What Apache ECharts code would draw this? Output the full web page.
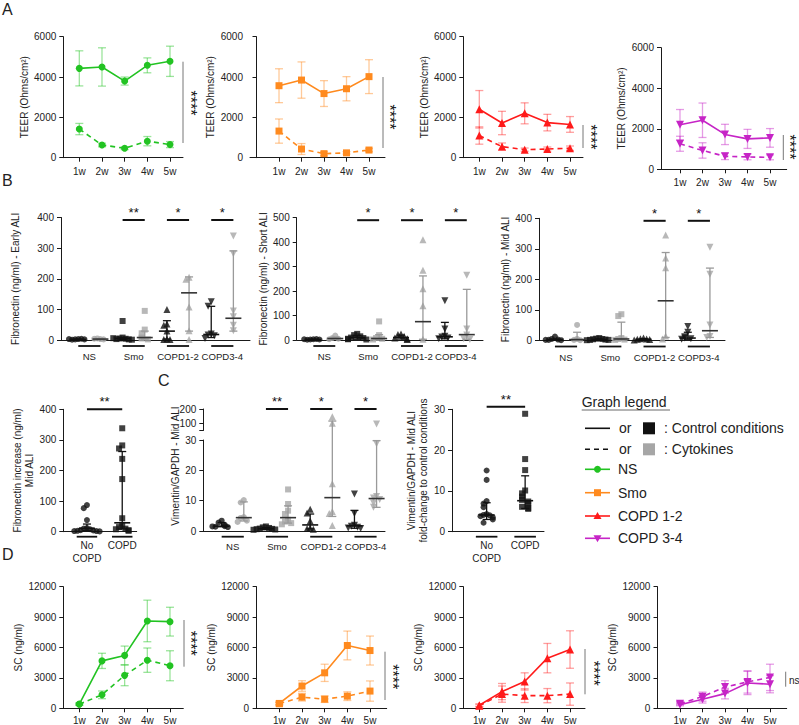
<!DOCTYPE html>
<html><head><meta charset="utf-8">
<script src="https://cdn.jsdelivr.net/npm/echarts@6/dist/echarts.min.js"></script>
<style>html,body{margin:0;padding:0;background:#fff}#c{width:799px;height:725px}</style>
</head><body><div id="c"></div>
<script>
// ---------------- DATA ----------------
const weeks = ['1w', '2w', '3w', '4w', '5w'];

// Panel A – TEER (Ohms/cm²): mean and SD per week
const teerNsCtrl = [4430, 4500, 3800, 4580, 4780];
const teerNsCtrlSd = [870, 950, 200, 370, 750];
const teerNsCyto = [1420, 630, 470, 820, 650];
const teerNsCytoSd = [280, 90, 70, 230, 150];
const teerSmoCtrl = [3570, 3850, 3180, 3420, 4020];
const teerSmoCtrlSd = [840, 900, 640, 600, 840];
const teerSmoCyto = [1320, 430, 200, 240, 380];
const teerSmoCytoSd = [600, 270, 100, 60, 80];
const teerC12Ctrl = [2400, 1720, 2200, 1740, 1650];
const teerC12CtrlSd = [930, 580, 520, 410, 390];
const teerC12Cyto = [1100, 550, 400, 430, 470];
const teerC12CytoSd = [430, 180, 80, 100, 110];
const teerC34Ctrl = [2200, 2420, 1720, 1500, 1550];
const teerC34CtrlSd = [750, 850, 500, 470, 460];
const teerC34Cyto = [1260, 930, 640, 610, 590];
const teerC34CytoSd = [370, 380, 160, 140, 120];

// Panel D – SC (ng/ml): mean and SD per week
const scNsCtrl = [420, 4680, 5220, 8620, 8550];
const scNsCtrlSd = [100, 750, 920, 2050, 1420];
const scNsCyto = [400, 1330, 3250, 4750, 4200];
const scNsCytoSd = [100, 380, 1020, 1200, 1480];
const scSmoCtrl = [480, 2200, 3500, 6200, 5700];
const scSmoCtrlSd = [120, 520, 850, 1420, 1430];
const scSmoCyto = [450, 1100, 900, 1200, 1700];
const scSmoCytoSd = [120, 380, 320, 430, 1000];
const scC12Ctrl = [300, 1650, 2650, 4950, 5800];
const scC12CtrlSd = [150, 800, 850, 1450, 1850];
const scC12Cyto = [250, 1400, 1250, 1250, 1400];
const scC12CytoSd = [100, 800, 680, 700, 1100];
const scC34Ctrl = [350, 900, 1450, 2500, 2380];
const scC34CtrlSd = [100, 380, 520, 1150, 850];
const scC34Cyto = [450, 1150, 2100, 2600, 3050];
const scC34CytoSd = [100, 450, 620, 1100, 1300];

// Panel B/C grouped columns: NS ctrl, NS cyto, Smo ctrl, Smo cyto, COPD1-2 ctrl, COPD1-2 cyto, COPD3-4 ctrl, COPD3-4 cyto
const groupLabels = ['NS', 'Smo', 'COPD1-2', 'COPD3-4'];
// Fibronectin (ng/ml) – Early ALI
const fnEarlyPoints = [[3, 2, 4, 1, 2, 3], [3, 5, 2, 4], [62, 8, 5, 4, 3, 2, 6, 1], [95, 34, 22, 8, 5, 2],
  [100, 52, 48, 29, 3, 2, 2], [205, 198, 108, 30, 2], [125, 110, 20, 16, 14, 5], [340, 282, 95, 76, 48, 30]];
const fnEarlyMedian = [2, 3, 5, 8, 29, 154, 18, 71];
const fnEarlyQ1 = [1, 2, 2, 3, 3, 29, 8, 29];
const fnEarlyQ3 = [3, 4, 7, 29, 63, 206, 110, 291];
const fnEarlySig = ['**', '*', '*'];
// Fibronectin (ng/ml) – Short ALI
const fnShortPoints = [[3, 2, 4, 1, 2, 3], [18, 8, 5, 3], [25, 20, 15, 10, 8, 5, 3, 2], [76, 20, 8, 5, 2],
  [25, 22, 15, 8, 5, 2], [410, 285, 210, 140, 3], [160, 45, 15, 12, 8, 5], [265, 45, 20, 5, 2]];
const fnShortMedian = [2, 6, 9, 6, 10, 75, 13, 22];
const fnShortQ1 = [1, 4, 3, 3, 4, 3, 5, 3];
const fnShortQ3 = [3, 12, 18, 22, 20, 262, 72, 207];
const fnShortSig = ['*', '*', '*'];
// Fibronectin (ng/ml) – Mid ALI
const fnMidPoints = [[13, 5, 3, 2, 1, 2], [51, 5, 2, 1], [8, 6, 5, 4, 3, 2, 2, 1], [86, 80, 8, 5, 3, 2],
  [8, 6, 5, 4, 3, 2], [345, 270, 238, 15, 5], [46, 27, 12, 8, 6, 4], [305, 217, 51, 13, 10]];
const fnMidMedian = [3, 3, 3, 5, 4, 130, 8, 32];
const fnMidQ1 = [2, 1, 2, 2, 2, 10, 4, 10];
const fnMidQ3 = [5, 27, 5, 60, 6, 288, 27, 237];
const fnMidSig = ['*', '*'];
// Fibronectin increase (ng/ml) – Mid ALI: No COPD vs COPD
const fnIncLabels = ['No\nCOPD', 'COPD'];
const fnIncPoints = [[87, 77, 38, 12, 10, 8, 5, 4, 3, 2, 2, 1], [338, 282, 272, 238, 172, 44, 20, 15, 10, 8, 5, 3]];
const fnIncMedian = [11, 29];
const fnIncQ1 = [3, 9];
const fnIncQ3 = [25, 262];
// Vimentin/GAPDH – Mid ALI
const vimPoints = [[3.4, 2.8, 2.0, 1.6, 1.4, 1.3, 1.5], [10.2, 9.4, 4.6, 4.3, 3.4, 3.0], [1.5, 1.2, 1.0, 0.8, 0.7, 0.6, 0.5, 0.4],
  [13.7, 8.9, 6.7, 5.6, 3.7, 3.1, 2.6, 2.2], [7.2, 5.9, 3.3, 1.0, 0.8, 0.6], [146, 100, 15.6, 6.4, 5.8, 1.8],
  [12.2, 5.8, 1.9, 1.6, 1.2, 1.0, 0.8], [95, 28.8, 11.4, 10.9, 10.4, 9.2, 7.8]];
const vimMedian = [1.6, 4.4, 0.75, 4.4, 2.0, 11, 1.7, 10.7];
const vimQ1 = [1.4, 3.3, 0.5, 2.6, 0.7, 4.8, 0.9, 7.8];
const vimQ3 = [2.8, 9.6, 1.1, 8.3, 5.6, 116, 6.8, 29.8];
const vimSig = ['**', '*', '*'];
// Vimentin/GAPDH fold-change – No COPD vs COPD
const vimFoldPoints = [[15, 12.7, 7.5, 6.9, 6.0, 4.3, 4.1, 4.0, 3.8, 3.5, 3.0, 2.2],
  [28.9, 17.8, 15.1, 10.1, 9.4, 8.6, 7.8, 7.4, 7.0, 6.1, 5.8, 5.6]];
const vimFoldMedian = [4.1, 7.6];
const vimFoldQ1 = [3.0, 5.7];
const vimFoldQ3 = [7.1, 13.7];

// ---------------- STYLE ----------------
const FONT = '"Liberation Sans", Arial, Helvetica, sans-serif';
const AX = '#1a1a1a', TXT = '#222';
const GRAYP = '#a6a6a6', GRAYW = '#9a9a9a';
const COL = {ns: '#22c322', smo: '#ff8a1e', c12: '#ff1a1a', c34: '#c624c6'};
const ERR = {ns: 'rgba(34,195,34,0.45)', smo: 'rgba(255,138,30,0.45)', c12: 'rgba(255,26,26,0.42)', c34: 'rgba(198,36,198,0.45)'};

const grids = [], xAxis = [], yAxis = [], series = [], graphic = [];

function addGrid(b, xa, ya) {
  const i = grids.length;
  grids.push({left: b.left, top: b.top, width: b.right - b.left, height: b.bottom - b.top, containLabel: false, outerBoundsMode: 'none'});
  xAxis.push(Object.assign({gridIndex: i}, xa));
  yAxis.push(Object.assign({gridIndex: i}, ya));
  return i;
}
function ln(x1, y1, x2, y2, c, w, dash) {
  return {type: 'line', shape: {x1, y1, x2, y2}, style: {stroke: c, lineWidth: w, lineDash: dash || null}};
}
function txtStyle(text, x, y, size, align, va, color) {
  return {text, x, y, fill: color || TXT, font: size + 'px ' + FONT, textAlign: align, textVerticalAlign: va, align: align, verticalAlign: va, lineHeight: 13};
}
function yAxisBase(min, max, interval, name, gap) {
  return {type: 'value', min, max, interval, splitLine: {show: false},
    axisLine: {show: true, lineStyle: {color: AX, width: 1}},
    axisTick: {show: true, length: 4, lineStyle: {color: AX}},
    axisLabel: {fontSize: 10, color: TXT, margin: 7, fontFamily: FONT, formatter: v => String(v)},
    name: name || '', nameLocation: 'middle', nameRotate: 90, nameGap: gap || 30,
    nameTextStyle: {fontSize: 10, color: TXT, fontFamily: FONT, lineHeight: 12}};
}

// ---- line charts (A, D) ----
function errRender(color) {
  return function (params, api) {
    const x = api.value(0), lo = api.value(1), hi = api.value(2);
    const a = api.coord([x, hi]), b = api.coord([x, Math.max(lo, 0)]);
    return {type: 'group', children: [ln(a[0], a[1], b[0], b[1], color, 1.3),
      ln(a[0] - 4, a[1], a[0] + 4, a[1], color, 1.3), ln(b[0] - 4, b[1], b[0] + 4, b[1], color, 1.3)]};
  };
}
function lineChart(c) {
  const gi = addGrid(c.box,
    {type: 'value', min: c.xmin, max: c.xmax, splitLine: {show: false},
      axisLine: {show: true, lineStyle: {color: AX, width: 1}},
      axisTick: {show: true, length: 4, customValues: [1, 2, 3, 4, 5], lineStyle: {color: AX}},
      axisLabel: {customValues: [1, 2, 3, 4, 5], formatter: v => weeks[Math.round(v) - 1], fontSize: 10, color: TXT, margin: c.xMargin, fontFamily: FONT}},
    yAxisBase(0, c.ymax, c.yint, c.yName, c.nameGap));
  [[c.ctrl, c.ctrlSd, false], [c.cyto, c.cytoSd, true]].forEach(([m, sd, dashed]) => {
    series.push({type: 'custom', xAxisIndex: gi, yAxisIndex: gi, silent: true, z: 2, clip: false,
      renderItem: errRender(c.err), data: m.map((v, i) => [i + 1, v - sd[i], v + sd[i]])});
    series.push({type: 'line', xAxisIndex: gi, yAxisIndex: gi, silent: true, z: 3,
      data: m.map((v, i) => [i + 1, v]), symbol: c.symbol, symbolRotate: c.rot || 0, symbolSize: c.symSize,
      lineStyle: {color: c.color, width: 1.6, type: dashed ? [5, 4] : 'solid'}, itemStyle: {color: c.color}});
  });
}

const sym = {ns: ['circle', 0, 7], smo: ['rect', 0, 7], c12: ['triangle', 0, 8], c34: ['triangle', 180, 8]};
const teerName = 'TEER (Ohms/cm²)', scName = 'SC (ng/ml)';
const lineDefs = [
  {k: 'ns', box: {left: 63.3, top: 36.7, right: 183, bottom: 157.7}, xmin: 0.294, xmax: 5.573, ymax: 6000, yint: 2000, yName: teerName, nameGap: 31, xMargin: 9, ctrl: teerNsCtrl, ctrlSd: teerNsCtrlSd, cyto: teerNsCyto, cytoSd: teerNsCytoSd},
  {k: 'smo', box: {left: 250, top: 36.7, right: 385, bottom: 157.7}, xmin: -0.289, xmax: 5.711, ymax: 6000, yint: 2000, yName: teerName, nameGap: 31, xMargin: 9, ctrl: teerSmoCtrl, ctrlSd: teerSmoCtrlSd, cyto: teerSmoCyto, cytoSd: teerSmoCytoSd},
  {k: 'c12', box: {left: 463.3, top: 36.7, right: 583, bottom: 157.7}, xmin: 0.294, xmax: 5.573, ymax: 6000, yint: 2000, yName: teerName, nameGap: 31, xMargin: 9, ctrl: teerC12Ctrl, ctrlSd: teerC12CtrlSd, cyto: teerC12Cyto, cytoSd: teerC12CytoSd},
  {k: 'c34', box: {left: 661, top: 47.7, right: 786.7, bottom: 169.3}, xmin: 0.156, xmax: 5.742, ymax: 6000, yint: 2000, yName: teerName, nameGap: 31, xMargin: 8, ctrl: teerC34Ctrl, ctrlSd: teerC34CtrlSd, cyto: teerC34Cyto, cytoSd: teerC34CytoSd},
  {k: 'ns', box: {left: 63.3, top: 586.7, right: 183.3, bottom: 708.3}, xmin: 0.294, xmax: 5.587, ymax: 12000, yint: 3000, yName: scName, nameGap: 38, xMargin: 7, ctrl: scNsCtrl, ctrlSd: scNsCtrlSd, cyto: scNsCyto, cytoSd: scNsCytoSd},
  {k: 'smo', box: {left: 256, top: 586.7, right: 386.7, bottom: 708.3}, xmin: -0.028, xmax: 5.736, ymax: 12000, yint: 3000, yName: scName, nameGap: 38, xMargin: 7, ctrl: scSmoCtrl, ctrlSd: scSmoCtrlSd, cyto: scSmoCyto, cytoSd: scSmoCytoSd},
  {k: 'c12', box: {left: 463.3, top: 586.7, right: 585, bottom: 708.3}, xmin: 0.294, xmax: 5.66, ymax: 12000, yint: 3000, yName: scName, nameGap: 38, xMargin: 7, ctrl: scC12Ctrl, ctrlSd: scC12CtrlSd, cyto: scC12Cyto, cytoSd: scC12CytoSd},
  {k: 'c34', box: {left: 657.3, top: 586.7, right: 786.7, bottom: 708.3}, xmin: -0.009, xmax: 5.742, ymax: 12000, yint: 3000, yName: scName, nameGap: 38, xMargin: 7, ctrl: scC34Ctrl, ctrlSd: scC34CtrlSd, cyto: scC34Cyto, cytoSd: scC34CytoSd}
];
lineDefs.forEach(d => lineChart(Object.assign({color: COL[d.k], err: ERR[d.k], symbol: sym[d.k][0], rot: sym[d.k][1], symSize: sym[d.k][2]}, d)));

// ---- scatter column charts (B, C) ----
function swarm(vals, thresh, step) {
  const placed = [];
  const slots = [0, -1, 1, -2, 2, -3, 3, -4, 4, -5, 5];
  return vals.map(v => {
    const k = placed.filter(p => Math.abs(p - v) < thresh).length;
    placed.push(v);
    return (slots[k] || 0) * step;
  });
}
function summaryRender(opt) {
  return function (params, api) {
    const x = api.value(0), med = api.value(1), q1 = api.value(2), q3 = api.value(3), cy = api.value(4);
    const wc = cy ? GRAYW : '#111', mc = cy ? '#333' : '#111';
    let lo = q1, hi = q3, capLo = true, capHi = true, medOn = true;
    if (opt.top != null && hi > opt.top) { hi = opt.top; capHi = false; }
    if (opt.bottom != null) {
      if (hi <= opt.bottom) return {type: 'group', children: []};
      if (lo < opt.bottom) { lo = opt.bottom; capLo = false; }
    }
    if (opt.top != null && med > opt.top) medOn = false;
    if (opt.bottom != null && med < opt.bottom) medOn = false;
    const a = api.coord([x, hi]), b = api.coord([x, lo]);
    const by = (!capLo && opt.extDown) ? b[1] + opt.extDown : b[1];
    const ch = [ln(a[0], a[1], a[0], by, wc, 1.3)];
    if (capHi) ch.push(ln(a[0] - 4, a[1], a[0] + 4, a[1], wc, 1.3));
    if (capLo) ch.push(ln(b[0] - 4, b[1], b[0] + 4, b[1], wc, 1.3));
    if (medOn) { const m = api.coord([x, med]); ch.push(ln(m[0] - 8, m[1], m[0] + 8, m[1], mc, 1.6)); }
    return {type: 'group', children: ch};
  };
}
function underRender(spans, labels, ymin, ulOff, lblOff, fs) {
  return function (params, api) {
    const i = params.dataIndex;
    const a = api.coord([api.value(0), ymin]), b = api.coord([api.value(1), ymin]);
    const y = a[1] + ulOff;
    return {type: 'group', children: [ln(a[0], y, b[0], y, '#111', 1.8),
      {type: 'text', style: txtStyle(labels[i], (a[0] + b[0]) / 2, a[1] + lblOff, fs || 10, 'center', 'top')}]};
  };
}
function sigRender(labels, ymax, dy) {
  return function (params, api) {
    const i = params.dataIndex;
    const a = api.coord([api.value(0), ymax]), b = api.coord([api.value(1), ymax]);
    const y = a[1] + dy;
    return {type: 'group', children: [ln(a[0], y, b[0], y, '#111', 2),
      {type: 'text', style: txtStyle(labels[i], (a[0] + b[0]) / 2, y - 1, 13, 'center', 'bottom', '#111')}]};
  };
}
const bSym = ['circle', 'circle', 'rect', 'rect', 'triangle', 'triangle', 'triangle', 'triangle'];
const bRot = [0, 0, 0, 0, 0, 0, 180, 180];
const bSize = [6, 6, 6, 6, 7, 7, 7, 7];
const bCy = [0, 1, 0, 1, 0, 1, 0, 1];
const bSpans = [[1, 2], [3, 4], [5, 6], [7, 8]];

function xHidden(min, max, showLine) {
  return {type: 'value', min, max, splitLine: {show: false}, axisTick: {show: false}, axisLabel: {show: false},
    axisLine: {show: showLine, lineStyle: {color: AX, width: 1}}};
}
function pointsSeries(gi, pts, syms, rots, sizes, cys, thresh, step, filter) {
  pts.forEach((vals, k) => {
    const offs = swarm(vals, thresh, step);
    const data = [];
    vals.forEach((v, i) => { if (!filter || filter(v)) data.push([k + 1 + offs[i], v]); });
    series.push({type: 'scatter', xAxisIndex: gi, yAxisIndex: gi, silent: true, z: 3, symbol: syms[k], symbolRotate: rots[k],
      symbolSize: sizes[k], itemStyle: {color: cys[k] ? GRAYP : '#111'}, data});
  });
}
function columnChart(c) {
  const gi = addGrid(c.box, xHidden(c.xmin, c.xmax, true), yAxisBase(0, c.ymax, c.yint, c.yName, c.nameGap));
  pointsSeries(gi, c.points, c.sym, c.rot, c.size, c.cy, c.ymax * 5 / 122, c.step);
  series.push({type: 'custom', xAxisIndex: gi, yAxisIndex: gi, silent: true, z: 4, clip: false, renderItem: summaryRender({}),
    data: c.med.map((m, k) => [k + 1, m, c.q1[k], c.q3[k], c.cy[k]])});
  series.push({type: 'custom', xAxisIndex: gi, yAxisIndex: gi, silent: true, z: 4, clip: false,
    renderItem: underRender(c.spans, c.labels, 0, c.ulOff, c.lblOff, c.lblSize), data: c.spans.map(s => [s[0] - c.spanPad, s[1] + c.spanPad])});
  series.push({type: 'custom', xAxisIndex: gi, yAxisIndex: gi, silent: true, z: 4, clip: false,
    renderItem: sigRender(c.sig, c.ymax, c.sigDy), data: c.sigSpans});
}
const bCommon = {sym: bSym, rot: bRot, size: bSize, cy: bCy, spans: bSpans, labels: groupLabels, spanPad: 0, ulOff: 6, lblOff: 10, lblSize: 9.6, step: 0.14, sigDy: 2.5, yint: 100};
columnChart(Object.assign({}, bCommon, {box: {left: 61, top: 217.5, right: 250, bottom: 340}, xmin: 0.22, xmax: 8.75, ymax: 400,
  yName: 'Fibronectin (ng/ml) - Early ALI', nameGap: 40, points: fnEarlyPoints, med: fnEarlyMedian, q1: fnEarlyQ1, q3: fnEarlyQ3,
  sig: fnEarlySig, sigSpans: [[3, 4], [5, 6], [7, 8]]}));
columnChart(Object.assign({}, bCommon, {box: {left: 296.7, top: 217.7, right: 483, bottom: 340}, xmin: 0.24, xmax: 8.74, ymax: 500,
  yName: 'Fibronectin (ng/ml) - Short ALI', nameGap: 25, points: fnShortPoints, med: fnShortMedian, q1: fnShortQ1, q3: fnShortQ3,
  sig: fnShortSig, sigSpans: [[3, 4], [5, 6], [7, 8]]}));
columnChart(Object.assign({}, bCommon, {box: {left: 539, top: 218.3, right: 725, bottom: 340.5}, xmin: 0.28, xmax: 8.68, ymax: 400,
  yName: 'Fibronectin (ng/ml) - Mid ALI', nameGap: 27, points: fnMidPoints, med: fnMidMedian, q1: fnMidQ1, q3: fnMidQ3,
  sig: fnMidSig, sigSpans: [[5, 6], [7, 8]]}));
// C1
columnChart({box: {left: 63.3, top: 409.3, right: 136.7, bottom: 531.7}, xmin: 0.33, xmax: 2.41, ymax: 400, yint: 100,
  yName: 'Fibronectin increase (ng/ml)\nMid ALI', nameGap: 26, points: fnIncPoints, med: fnIncMedian, q1: fnIncQ1, q3: fnIncQ3,
  sym: ['circle', 'rect'], rot: [0, 0], size: [6, 6], cy: [0, 0], spans: [[1, 1], [2, 2]], labels: fnIncLabels, spanPad: 0.29,
  ulOff: 5, lblOff: 7.5, step: 0.09, sig: ['**'], sigSpans: [[1, 2]], sigDy: 0});
// C3
columnChart({box: {left: 452, top: 409.3, right: 544, bottom: 531.7}, xmin: 0.10, xmax: 2.49, ymax: 30, yint: 10,
  yName: 'Vimentin/GAPDH - Mid ALI\nfold-change to control conditions', nameGap: 8, points: vimFoldPoints, med: vimFoldMedian, q1: vimFoldQ1, q3: vimFoldQ3,
  sym: ['circle', 'rect'], rot: [0, 0], size: [6, 6], cy: [0, 0], spans: [[1, 1], [2, 2]], labels: fnIncLabels, spanPad: 0.28,
  ulOff: 5, lblOff: 7.5, step: 0.08, sig: ['**'], sigSpans: [[1, 2]], sigDy: -2.5});

// C2 – broken y axis: lower 0–30, upper 50–200
(function () {
  const lowBox = {left: 203.3, top: 440, right: 385, bottom: 531};
  const upBox = {left: 203.3, top: 409, right: 385, bottom: 430.5};
  const lo = addGrid(lowBox, xHidden(0.17, 8.38, true), yAxisBase(0, 30, 10, '', 20));
  const upY = yAxisBase(50, 200, 50, '', 20);
  upY.axisTick = {show: true, length: 4, customValues: [50, 100, 200], lineStyle: {color: AX}};
  upY.axisLabel = {customValues: [100, 200], fontSize: 10, color: TXT, margin: 7, fontFamily: FONT, formatter: v => String(v)};
  const up = addGrid(upBox, xHidden(0.17, 8.38, false), upY);
  pointsSeries(lo, vimPoints, bSym, bRot, bSize, bCy, 30 * 5 / 91, 0.14, v => v <= 30);
  pointsSeries(up, vimPoints, bSym, bRot, bSize, bCy, 30 * 5 / 91, 0.14, v => v > 30);
  const sdata = vimMedian.map((m, k) => [k + 1, m, vimQ1[k], vimQ3[k], bCy[k]]);
  series.push({type: 'custom', xAxisIndex: lo, yAxisIndex: lo, silent: true, z: 4, clip: false, renderItem: summaryRender({top: 30}), data: sdata});
  series.push({type: 'custom', xAxisIndex: up, yAxisIndex: up, silent: true, z: 4, clip: false,
    renderItem: summaryRender({bottom: 50, extDown: lowBox.top - upBox.bottom}), data: sdata});
  series.push({type: 'custom', xAxisIndex: lo, yAxisIndex: lo, silent: true, z: 4, clip: false,
    renderItem: underRender(bSpans, groupLabels, 0, 5.7, 9, 9.6), data: bSpans});
  series.push({type: 'custom', xAxisIndex: up, yAxisIndex: up, silent: true, z: 4, clip: false,
    renderItem: sigRender(vimSig, 200, 0), data: [[3, 4], [5, 6], [7, 8]]});
  graphic.push({type: 'text', x: 175, y: 466, rotation: Math.PI / 2, silent: true,
    style: txtStyle('Vimentin/GAPDH - Mid ALI', 0, 0, 10, 'center', 'middle')});
})();

// ---- annotations ----
function gText(x, y, text, size, align, rot, color) {
  return {type: 'text', x, y, rotation: rot || 0, silent: true, style: txtStyle(text, 0, 0, size, align || 'left', 'middle', color)};
}
[['A', 2, 9], ['B', 2, 180], ['C', 158, 380], ['D', 2, 554]].forEach(p => graphic.push(gText(p[1], p[2], p[0], 16)));
// significance brackets for time courses
[[183, 61.7, 143, 190, 103, '****'], [383, 77, 148, 389, 117, '****'], [583, 125, 148, 590, 137, '****'], [783.3, 135, 160, 789.5, 147, '****'],
 [184, 620, 666.7, 190, 643.3, '****'], [385, 651.7, 700, 392, 676.7, '****'], [585, 649, 694.3, 593, 673.3, '****']].forEach(s => {
  graphic.push({type: 'line', silent: true, shape: {x1: s[0], y1: s[1], x2: s[0], y2: s[2]}, style: {stroke: '#777', lineWidth: 1}});
  graphic.push(gText(s[3], s[4], s[5], 16, 'center', -Math.PI / 2, '#111'));
});
graphic.push({type: 'line', silent: true, shape: {x1: 785.7, y1: 671.7, x2: 785.7, y2: 686.7}, style: {stroke: '#777', lineWidth: 1}});
graphic.push(gText(789, 680, 'ns', 10, 'left'));

// ---- legend ----
const legX = 585;
graphic.push(gText(581.7, 401.7, 'Graph legend', 14));
graphic.push({type: 'line', silent: true, shape: {x1: 581.7, y1: 410, x2: 670, y2: 410}, style: {stroke: '#444', lineWidth: 0.8}});
[[428.3, null, '#111', ': Control conditions'], [449.3, [5, 4], GRAYP, ': Cytokines']].forEach(r => {
  graphic.push({type: 'line', silent: true, shape: {x1: legX, y1: r[0], x2: legX + 25, y2: r[0]}, style: {stroke: '#111', lineWidth: 1.6, lineDash: r[1]}});
  graphic.push(gText(619, r[0], 'or', 14));
  graphic.push({type: 'rect', silent: true, shape: {x: 643, y: r[0] - 6, width: 12, height: 12}, style: {fill: r[2]}});
  graphic.push(gText(664, r[0], r[3], 14));
});
const legRows = [[469.3, 'ns', 'NS'], [492.7, 'smo', 'Smo'], [516, 'c12', 'COPD 1-2'], [538.3, 'c34', 'COPD 3-4']];
legRows.forEach(r => {
  const y = r[0], c = COL[r[1]], cx = legX + 12.5;
  graphic.push({type: 'line', silent: true, shape: {x1: legX, y1: y, x2: legX + 25, y2: y}, style: {stroke: c, lineWidth: 1.6}});
  let m;
  if (r[1] === 'ns') m = {type: 'circle', shape: {cx, cy: y, r: 3.5}, style: {fill: c}};
  else if (r[1] === 'smo') m = {type: 'rect', shape: {x: cx - 3.5, y: y - 3.5, width: 7, height: 7}, style: {fill: c}};
  else if (r[1] === 'c12') m = {type: 'polygon', shape: {points: [[cx, y - 4], [cx + 4, y + 3], [cx - 4, y + 3]]}, style: {fill: c}};
  else m = {type: 'polygon', shape: {points: [[cx, y + 4], [cx + 4, y - 3], [cx - 4, y - 3]]}, style: {fill: c}};
  m.silent = true;
  graphic.push(m);
  graphic.push(gText(618, y, r[2], 14));
});

const chart = echarts.init(document.getElementById('c'), null, {renderer: 'svg', width: 799, height: 725});
chart.setOption({animation: false, backgroundColor: '#fff', textStyle: {fontFamily: FONT},
  grid: grids, xAxis, yAxis, series, graphic});
</script>
</body></html>
